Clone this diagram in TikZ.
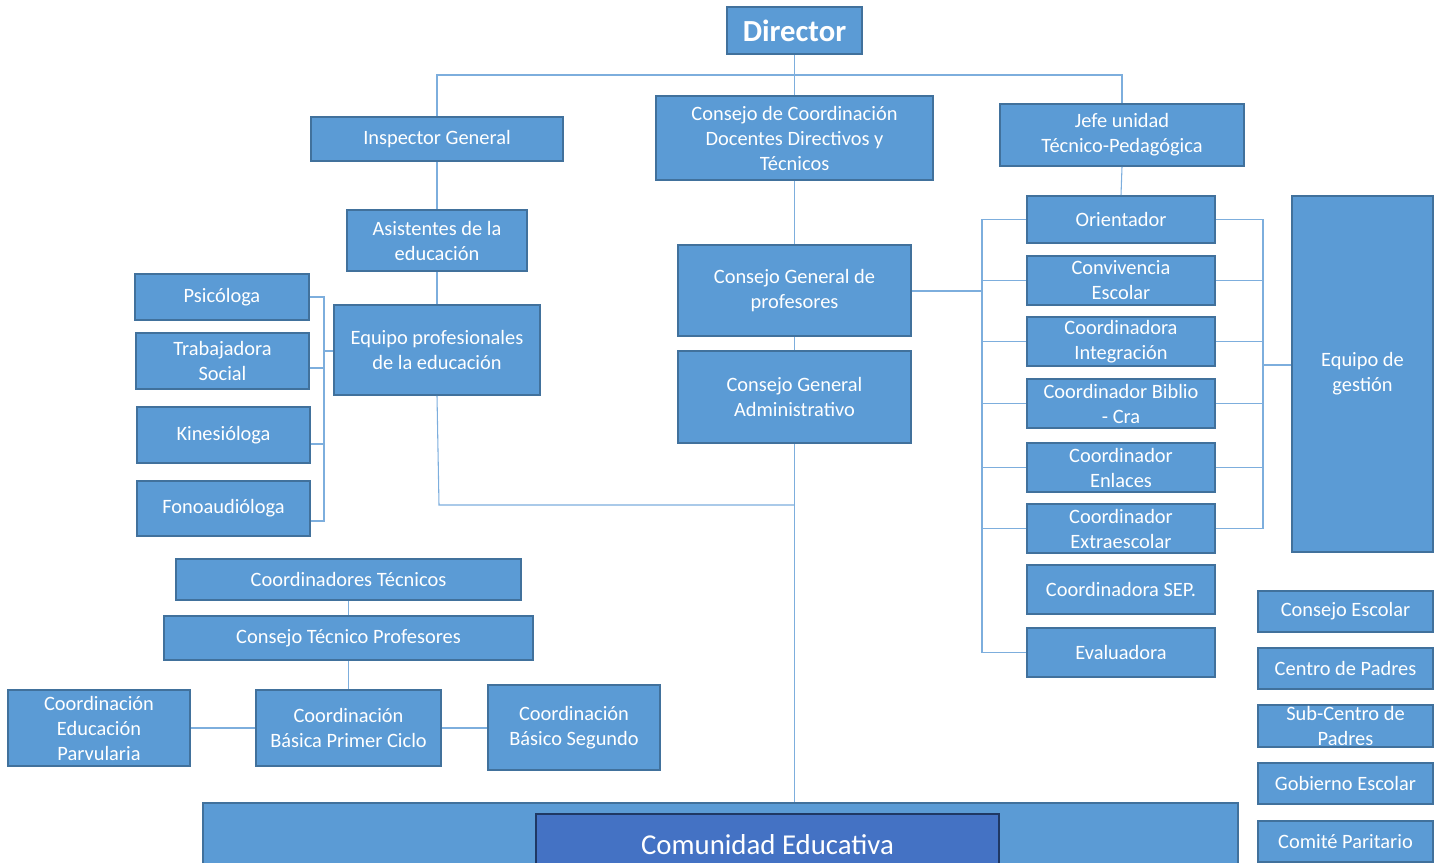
\documentclass[tikz,border=0pt]{standalone}
\usepackage{fontspec}
\setmainfont{Carlito}
\definecolor{boxc}{HTML}{5B9BD5}
\definecolor{bdr}{HTML}{41719C}
\definecolor{lnc}{HTML}{7DAEDD}
\definecolor{darkc}{HTML}{4472C4}
\definecolor{darkb}{HTML}{1F3864}
\begin{document}
\begin{tikzpicture}[x=0.75pt,y=-0.75pt,
  bx/.style 2 args={draw=bdr, fill=boxc, line width=1.3pt, text=white, align=center,
     inner sep=0pt, minimum width=#1*0.75pt, minimum height=#2*0.75pt,
     font=\fontsize{15.3}{18.75}\selectfont},
  ln/.style={draw=lnc, line width=0.8pt}]
\useasboundingbox (0,0) rectangle (1439,863);
\clip (0,0) rectangle (1439,863);
% boxes
\node[bx={135}{47}, font=\fontsize{23}{26}\selectfont\bfseries] (dir) at (794.5,30.5) {Director};
\node[bx={252}{44}] (insp) at (437,139) {Inspector General};
\node[bx={277}{84}] (ccd) at (794.5,138) {Consejo de Coordinación\\Docentes Directivos y\\Técnicos};
\node[bx={244}{62}] (jefe) at (1122,135) {Jefe unidad\\Técnico-Pedagógica};
\node[bx={180}{61}] (asist) at (437,240.5) {Asistentes de la\\educación};
\node[bx={206}{90}] (eqp) at (437,350) {Equipo profesionales\\de la educación};
\node[bx={174}{46}] (psic) at (222,297) {Psicóloga};
\node[bx={173}{56}] (trab) at (222.5,361) {Trabajadora\\Social};
\node[bx={173}{56}] (kine) at (223.5,435) {Kinesióloga};
\node[bx={173}{55}] (fono) at (223.5,508.5) {Fonoaudióloga};
\node[bx={233}{91}] (cgp) at (794.5,290.5) {Consejo General de\\profesores};
\node[bx={233}{92}] (cga) at (794.5,397) {Consejo General\\Administrativo};
\node[bx={188}{47}] (orient) at (1121,219.5) {Orientador};
\node[bx={188}{49}] (conv) at (1121,280.5) {Convivencia\\Escolar};
\node[bx={188}{49}] (integ) at (1121,341.5) {Coordinadora\\Integración};
\node[bx={188}{49}] (biblio) at (1121,403.5) {Coordinador Biblio\\- Cra};
\node[bx={188}{49}] (enl) at (1121,467.5) {Coordinador\\Enlaces};
\node[bx={188}{49}] (extra) at (1121,528.5) {Coordinador\\Extraescolar};
\node[bx={188}{49}] (sep) at (1121,589.5) {Coordinadora SEP.};
\node[bx={188}{49}] (eval) at (1121,652.5) {Evaluadora};
\node[bx={141}{356}] (eqg) at (1362.5,374) {Equipo de\\gestión};
\node[bx={175}{41}] (cesc) at (1345.5,611.5) {Consejo Escolar};
\node[bx={175}{41}] (cpad) at (1345.5,668.5) {Centro de Padres};
\node[bx={175}{42}] (subc) at (1345.5,726) {Sub-Centro de\\Padres};
\node[bx={175}{41}] (gob) at (1345.5,783.5) {Gobierno Escolar};
\node[bx={175}{41}] (comite) at (1345.5,841.5) {Comité Paritario};
\node[bx={345}{41}] (ctec) at (348.5,579.5) {Coordinadores Técnicos};
\node[bx={369}{44}] (ctp) at (348.5,638) {Consejo Técnico Profesores};
\node[bx={182}{76}] (parv) at (99,728) {Coordinación\\Educación\\Parvularia};
\node[bx={185}{76}] (prim) at (348.5,728) {Coordinación\\Básica Primer Ciclo};
\node[bx={172}{85}] (seg) at (574,727.5) {Coordinación\\Básico Segundo};
\node[bx={1035}{80}] (bar) at (720.5,843) {};
\node[bx={463}{62}, fill=darkc, draw=darkb, line width=2.2pt,
      font=\fontsize{21.6}{24}\selectfont] (comu) at (767.5,845) {Comunidad Educativa};
% connectors
\coordinate (jl) at (437,75);
\coordinate (jr) at (1122,75);
\draw[ln] (insp.north) -- (jl) -- (jr) -- (jefe.north);
\draw[ln] (dir.south) -- (ccd.north);
\draw[ln] (insp.south) -- (asist.north);
\draw[ln] (asist.south) -- (eqp.north);
\coordinate (eb) at (439,505);
\coordinate (ec) at (794.5,505);
\draw[ln] (eqp.south) -- (eb) -- (ec);
\draw[ln] (cga.south) -- (cga.south |- bar.north);
\draw[ln] (ccd.south) -- (cgp.north);
\draw[ln] (cgp.south) -- (cga.north);
% left bracket
\coordinate (lbt) at (324,297);
\coordinate (lbb) at (324,521);
\draw[ln] (psic.east) -- (lbt) -- (lbb) -- (fono.east |- lbb);
\draw[ln] (trab.east |- 0,368) -- (324,368);
\draw[ln] (kine.east |- 0,444) -- (324,444);
\draw[ln] (324,351) -- (eqp.west |- 0,351);
% right column left bracket
\coordinate (rlm) at (982,291);
\draw[ln] (cgp.east |- rlm) -- (rlm);
\draw[ln] (orient.west -| rlm) -- (eval.west -| rlm);
\foreach \b in {orient,conv,integ,biblio,enl,extra,eval}
  \draw[ln] (\b.west) -- (\b.west -| rlm);
% right column right bracket
\coordinate (rrm) at (1263,365);
\draw[ln] (orient.east -| rrm) -- (extra.east -| rrm);
\foreach \b in {orient,conv,integ,biblio,enl,extra}
  \draw[ln] (\b.east) -- (\b.east -| rrm);
\draw[ln] (rrm) -- (eqg.west |- rrm);
\draw[ln] (jefe.south) -- (orient.north);
% lower left
\draw[ln] (ctec.south) -- (ctp.north);
\draw[ln] (ctp.south) -- (prim.north);
\draw[ln] (parv.east) -- (prim.west);
\draw[ln] (prim.east) -- (seg.west |- prim.east);
\end{tikzpicture}
\end{document}
